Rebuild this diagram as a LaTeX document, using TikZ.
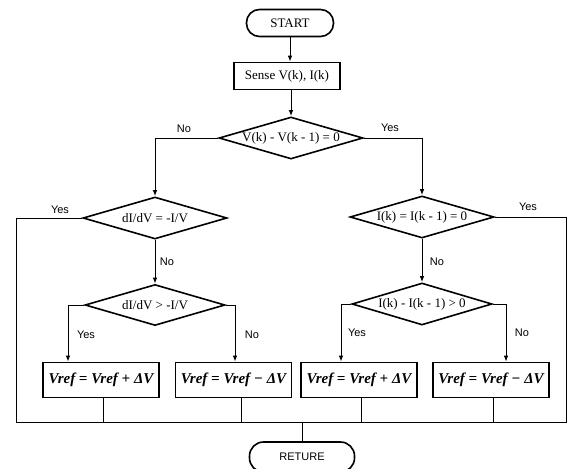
\documentclass[tikz,border=0pt]{standalone}
\usepackage{fontspec}
\setmainfont{Liberation Serif}
\setsansfont{Liberation Sans}
\usetikzlibrary{shapes.geometric,arrows.meta}
\begin{document}
\begin{tikzpicture}[x=1pt,y=-1pt,
 term/.style={draw,line width=1.6pt,rounded corners=13pt,minimum width=87pt,minimum height=27pt,inner sep=0pt,font=\fontsize{13}{15}\selectfont},
 procbox/.style={draw,line width=1.6pt,minimum width=106pt,minimum height=27pt,inner sep=0pt,font=\fontsize{13}{15}\selectfont},
 decision/.style={draw,diamond,aspect=3.4,line width=1.6pt,minimum width=144pt,minimum height=42pt,inner sep=0pt,font=\fontsize{13}{15}\selectfont},
 vrefbox/.style={draw,line width=1.6pt,minimum width=116pt,minimum height=35pt,inner sep=0pt,font=\fontsize{15}{17}\selectfont\bfseries\itshape},
 lbl/.style={font=\sffamily\fontsize{11}{13}\selectfont,inner sep=1pt},
 arr/.style={line width=1pt,-{Latex[length=6pt,width=4.5pt]}},
 conn/.style={line width=1pt}]
\useasboundingbox (0,0) rectangle (572,468);
\clip (0,0) rectangle (572,468);
\fill[white] (0,0) rectangle (572,468);

\node[term] (start) at (290,23) {START};
\node[procbox] (sense) at (287,76) {Sense V(k), I(k)};
\node[decision] (d1) at (291,138) {V(k) - V(k - 1) = 0};
\node[decision] (d2) at (155,218) {dI/dV = -I/V};
\node[decision, minimum width=140pt, minimum height=41pt] (d2b) at (155,305) {dI/dV > -I/V};
\node[decision] (d3) at (422,217) {I(k) = I(k - 1) = 0};
\node[decision, minimum width=140pt] (d4) at (422,304) {I(k) - I(k - 1) > 0};
\node[vrefbox] (b1) at (101,380) {Vref = Vref + ΔV};
\node[vrefbox] (b2) at (233.5,380) {Vref = Vref − ΔV};
\node[vrefbox] (b3) at (359,380) {Vref = Vref + ΔV};
\node[vrefbox] (b4) at (491,380) {Vref = Vref − ΔV};
\node[term, minimum width=105pt, minimum height=30pt, rounded corners=14pt, font=\sffamily\fontsize{11}{13}\selectfont] (ret) at (302,457) {RETURE};

\coordinate (yl) at (16,218);
\coordinate (bl) at (16,422);
\coordinate (br) at (566,422);
\coordinate (yr) at (566,217);

\draw[arr] (start.south) -- (start.south |- sense.north);
\draw[arr] (sense.south -| d1.north) -- (d1.north);
\draw[arr] (d1.west) -| (d2.north);
\draw[arr] (d1.east) -| (d3.north);
\draw[arr] (d2.south) -- (d2b.north);
\draw[arr] (d2b.west) -| ([xshift=-33pt]b1.north);
\draw[arr] (d2b.east) -| ([xshift=1.5pt]b2.north);
\draw[arr] (d3.south) -- (d4.north);
\draw[arr] (d4.west) -| ([xshift=-18pt]b3.north);
\draw[arr] (d4.east) -| ([xshift=15pt]b4.north);
\draw[conn] (d2.west) -- (yl) -- (bl) -- (br) -- (yr) -- (d3.east);
\draw[conn] ([xshift=2pt]b1.south) -- ([xshift=2pt]b1.south |- bl);
\draw[conn] ([xshift=8pt]b2.south) -- ([xshift=8pt]b2.south |- bl);
\draw[conn] ([xshift=2pt]b3.south) -- ([xshift=2pt]b3.south |- bl);
\draw[conn] ([xshift=2pt]b4.south) -- ([xshift=2pt]b4.south |- bl);
\draw[conn] (ret.north |- bl) -- (ret.north);

\node[lbl] (l1) at (184,129) {No};
\node[lbl] (l2) at (390,128) {Yes};
\node[lbl] (l3) at (60,210) {Yes};
\node[lbl] (l4) at (167,262) {No};
\node[lbl] (l5) at (86,335) {Yes};
\node[lbl] (l6) at (252,335) {No};
\node[lbl] (l7) at (528,207) {Yes};
\node[lbl] (l8) at (437,262) {No};
\node[lbl] (l9) at (357,333) {Yes};
\node[lbl] (l10) at (522,333) {No};
\end{tikzpicture}
\end{document}
